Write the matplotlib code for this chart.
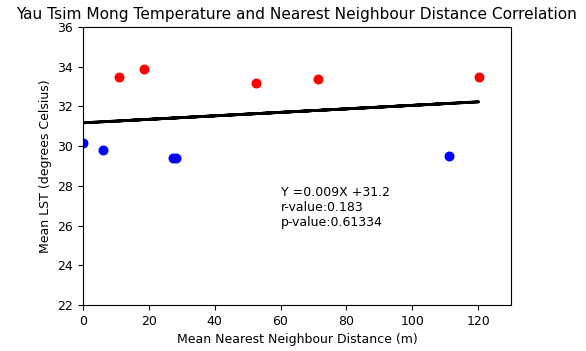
import numpy as np
import matplotlib
matplotlib.use("Agg")
import matplotlib.pyplot as plt

# ----------------------
# Data
# ----------------------
hot_dist = [11.0, 18.4, 52.6, 71.3, 120.2]
hot_lst = [33.50, 33.89, 33.18, 33.37, 33.50]
cool_dist = [0.1, 6.2, 27.2, 28.2, 111.3]
cool_lst = [30.14, 29.82, 29.39, 29.39, 29.50]

eq_text = "Y =0.009X +31.2"
r_text = "r-value:0.183"
p_text = "p-value:0.61334"

# ----------------------
# Regression line
# ----------------------
all_x = np.array(hot_dist + cool_dist)
all_y = np.array(hot_lst + cool_lst)
slope, intercept = np.polyfit(all_x, all_y, 1)
fit_y = slope * all_x + intercept

# ----------------------
# Plot
# ----------------------
fig = plt.figure(figsize=(5.86, 3.51), dpi=100)
ax = fig.add_axes([0.1416, 0.131, 0.7304, 0.792])

ax.scatter(hot_dist, hot_lst, color='red', s=38)
ax.scatter(cool_dist, cool_lst, color='blue', s=38)
ax.plot(all_x, fit_y, color='black', linewidth=2)

ax.text(60, 26, f"{eq_text}\n{r_text}\n{p_text}", fontsize=9, color='black')

ax.set_xlim(0, 130)
ax.set_ylim(22, 36)
ax.set_xticks([0, 20, 40, 60, 80, 100, 120])
ax.set_yticks(range(22, 37, 2))
ax.tick_params(labelsize=9)
ax.set_xlabel("Mean Nearest Neighbour Distance (m)", fontsize=9)
ax.set_ylabel("Mean LST (degrees Celsius)", fontsize=9)
ax.set_title("Yau Tsim Mong Temperature and Nearest Neighbour Distance Correlation", fontsize=11.05)

fig.savefig("out.png", dpi=100)
